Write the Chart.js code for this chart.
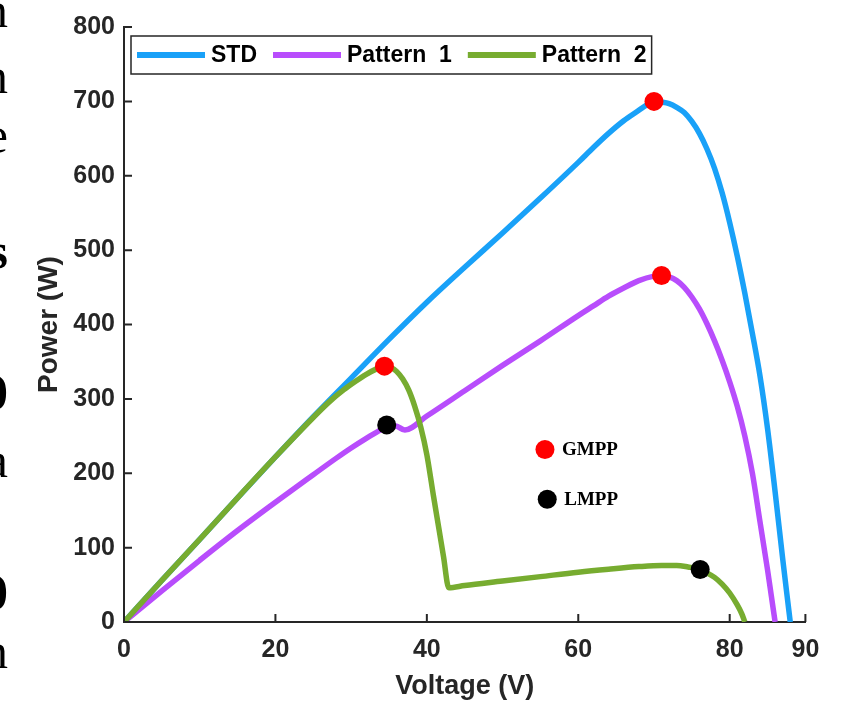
<!DOCTYPE html>
<html>
<head>
<meta charset="utf-8">
<script src="https://cdn.jsdelivr.net/npm/chart.js@4"></script>
<style>
  html, body { margin: 0; padding: 0; background: #fff; }
  #wrap { position: relative; width: 859px; height: 708px; }
  canvas { position: absolute; left: 0; top: 0; }
  #edge { position: absolute; left: 0; top: 0; width: 8px; height: 708px; overflow: hidden;
          font-family: "Liberation Serif", "Times New Roman", serif; font-size: 50px; line-height: 50px; color: #000; }
  #edge span { position: absolute; right: 0; }
</style>
</head>
<body>
<div id="wrap">
  <canvas id="chart" width="859" height="708"></canvas>
  <div id="edge">
    <span style="top:-15px">n</span>
    <span style="top:51px">n</span>
    <span style="top:110px">e</span>
    <span style="top:226px;font-weight:bold">s</span>
    <span style="top:367px;font-weight:bold">0</span>
    <span style="top:435px">a</span>
    <span style="top:567px;font-weight:bold">0</span>
    <span style="top:626px">n</span>
  </div>
</div>
<script>
// P-V curves
const stdV = [0, 5, 10, 15, 20, 25, 30, 35, 40, 45, 50, 55, 60, 62, 64, 66, 68, 69, 70, 71, 72, 73, 74, 75, 76, 77, 78, 79, 80, 81, 82, 83, 84, 85, 86, 87, 87.5, 88];
const stdP = [0, 56, 111, 167, 222, 276, 328, 380, 430, 477, 523, 570, 618, 638, 657, 674, 688, 695, 700, 699, 697, 692, 685, 673, 657, 636, 610, 577, 537, 492, 442, 388, 331, 260, 175, 85, 42, 0];

const p1V = [0, 5, 10, 15, 20, 25, 28, 30, 32, 33.5, 34.7, 35.8, 37.1, 40, 45, 50, 55, 60, 62, 64, 66, 68, 70, 71, 72, 73, 74, 75, 76, 77, 78, 79, 80, 81, 82, 83, 84, 85, 85.5, 86];
const p1P = [0, 42, 83, 123, 161, 198, 220, 234, 247, 256, 262, 264, 258, 277, 311, 345, 378, 412, 425, 438, 449, 459, 465, 466, 464, 459, 450, 437, 421, 401, 378, 352, 323, 290, 250, 200, 135, 70, 35, 0];

const p2V = [0, 5, 10, 15, 20, 25, 27, 29, 30.5, 32, 33.3, 34.4, 35.3, 36, 36.8, 37.6, 38.4, 39.2, 40, 40.9, 41.6, 42.2, 42.9, 45, 50, 55, 60, 64, 68, 71, 73, 74.5, 76, 77, 78, 79, 80, 81, 81.6, 82];
const p2P = [0, 56, 111, 167, 222, 275, 295, 312, 323, 333, 340, 344, 342, 337, 327, 312, 290, 262, 225, 168, 125, 88, 46, 49, 55, 61, 67, 71, 74.5, 76, 76, 74, 71, 66, 60, 51, 39, 23, 11, 0];

// maximum power points
const gmppV = [70, 71, 34.4];
const gmppP = [700, 466, 344];
const lmppV = [34.7, 76.1];
const lmppP = [265, 70.5];

// the small key inside the plot
const keyLabels = ['GMPP', 'LMPP'];
const keyV = [55.6, 55.9];
const keyP = [232, 165];

const seriesNames = ['STD', 'Pattern  1', 'Pattern  2'];
const xTicks = [0, 20, 40, 60, 80, 90];
const yTicks = [0, 100, 200, 300, 400, 500, 600, 700, 800];

const pts = (xs, ys) => xs.map((x, i) => ({ x: x, y: ys[i] }));
const axisColor = '#262626';
const sans = '"Liberation Sans", Arial, Helvetica, sans-serif';

function curve(label, xs, ys, color, order) {
  return {
    label: label,
    data: pts(xs, ys),
    borderColor: color,
    backgroundColor: color,
    borderWidth: 5.5,
    pointRadius: 0,
    cubicInterpolationMode: 'monotone',
    fill: false,
    order: order
  };
}

function dots(xs, ys, color) {
  return {
    data: pts(xs, ys),
    showLine: false,
    pointRadius: 9.5,
    pointHoverRadius: 9.5,
    pointBackgroundColor: color,
    pointBorderWidth: 0,
    order: 0
  };
}

// MATLAB style ticks pointing into the axes
const inwardTicks = {
  id: 'inwardTicks',
  afterDraw(chart) {
    const c = chart.ctx, a = chart.chartArea;
    const xs = chart.scales.x, ys = chart.scales.y;
    c.save();
    c.strokeStyle = axisColor;
    c.lineWidth = 2;
    c.beginPath();
    xTicks.forEach(v => {
      const px = xs.getPixelForValue(v);
      c.moveTo(px, a.bottom);
      c.lineTo(px, a.bottom - 8);
    });
    yTicks.forEach(v => {
      const py = ys.getPixelForValue(v);
      c.moveTo(a.left, py);
      c.lineTo(a.left + 8, py);
    });
    c.stroke();
    c.restore();
  }
};

// boxed horizontal legend in the top left of the axes
const boxLegend = {
  id: 'boxLegend',
  afterDraw(chart) {
    const c = chart.ctx, a = chart.chartArea;
    const left = a.left + 7, top = a.top + 9, h = 38;
    c.save();
    c.font = 'bold 23px ' + sans;
    c.textBaseline = 'middle';
    let x = left + 6;
    const items = [];
    for (let i = 0; i < seriesNames.length; i++) {
      const w = c.measureText(seriesNames[i]).width;
      items.push({ x: x, w: w, color: chart.data.datasets[i].borderColor, text: seriesNames[i] });
      x += 74 + w + 16;
    }
    const boxW = x - 16 + 5 - left;
    c.fillStyle = '#fff';
    c.fillRect(left, top, boxW, h);
    c.strokeStyle = axisColor;
    c.lineWidth = 1.5;
    c.strokeRect(left, top, boxW, h);
    items.forEach(it => {
      c.strokeStyle = it.color;
      c.lineWidth = 6;
      c.beginPath();
      c.moveTo(it.x, top + h / 2);
      c.lineTo(it.x + 68, top + h / 2);
      c.stroke();
      c.fillStyle = '#000';
      c.fillText(it.text, it.x + 74, top + h / 2 + 1);
    });
    c.restore();
  }
};

// text next to the two key dots
const keyText = {
  id: 'keyText',
  afterDatasetsDraw(chart) {
    const c = chart.ctx;
    const xs = chart.scales.x, ys = chart.scales.y;
    c.save();
    c.font = 'bold 19px "Liberation Serif", "Times New Roman", serif';
    c.fillStyle = '#000';
    c.textBaseline = 'middle';
    keyLabels.forEach((t, i) => {
      c.fillText(t, xs.getPixelForValue(keyV[i]) + 17, ys.getPixelForValue(keyP[i]) + 1);
    });
    c.restore();
  }
};

const ctx = document.getElementById('chart').getContext('2d');
new Chart(ctx, {
  type: 'line',
  data: {
    datasets: [
      curve(seriesNames[0], stdV, stdP, '#19a1f8', 3),
      curve(seriesNames[1], p1V, p1P, '#b84dfc', 2),
      curve(seriesNames[2], p2V, p2P, '#77ac30', 1),
      dots(gmppV, gmppP, '#ff0000'),
      dots(lmppV, lmppP, '#000000'),
      dots([keyV[0]], [keyP[0]], '#ff0000'),
      dots([keyV[1]], [keyP[1]], '#000000')
    ]
  },
  options: {
    responsive: false,
    animation: false,
    events: [],
    layout: { padding: { left: 0, right: 53.6, top: 27, bottom: 0 } },
    plugins: { legend: { display: false }, tooltip: { enabled: false } },
    scales: {
      x: {
        type: 'linear',
        min: 0,
        max: 90,
        afterBuildTicks: s => { s.ticks = xTicks.map(v => ({ value: v })); },
        afterFit: s => { s.height = 86; },
        grid: { display: false, drawTicks: false },
        border: { display: true, color: axisColor, width: 2 },
        ticks: { color: axisColor, padding: 13, maxRotation: 0, autoSkip: false,
                  font: { family: sans, size: 25, weight: 'bold' } },
        title: { display: true, text: 'Voltage (V)', color: axisColor, padding: { top: 0, bottom: 5 },
                 font: { family: sans, size: 27, weight: 'bold' } }
      },
      y: {
        type: 'linear',
        min: 0,
        max: 800,
        afterBuildTicks: s => { s.ticks = yTicks.map(v => ({ value: v })); },
        afterFit: s => { s.width = 124; },
        grid: { display: false, drawTicks: false },
        border: { display: true, color: axisColor, width: 2 },
        ticks: { color: axisColor, padding: 9, autoSkip: false,
                  font: { family: sans, size: 25, weight: 'bold' } },
        title: { display: true, text: 'Power (W)', color: axisColor, padding: { top: 32, bottom: 0 },
                 font: { family: sans, size: 28, weight: 'bold' } }
      }
    }
  },
  plugins: [inwardTicks, boxLegend, keyText]
});
</script>
</body>
</html>
